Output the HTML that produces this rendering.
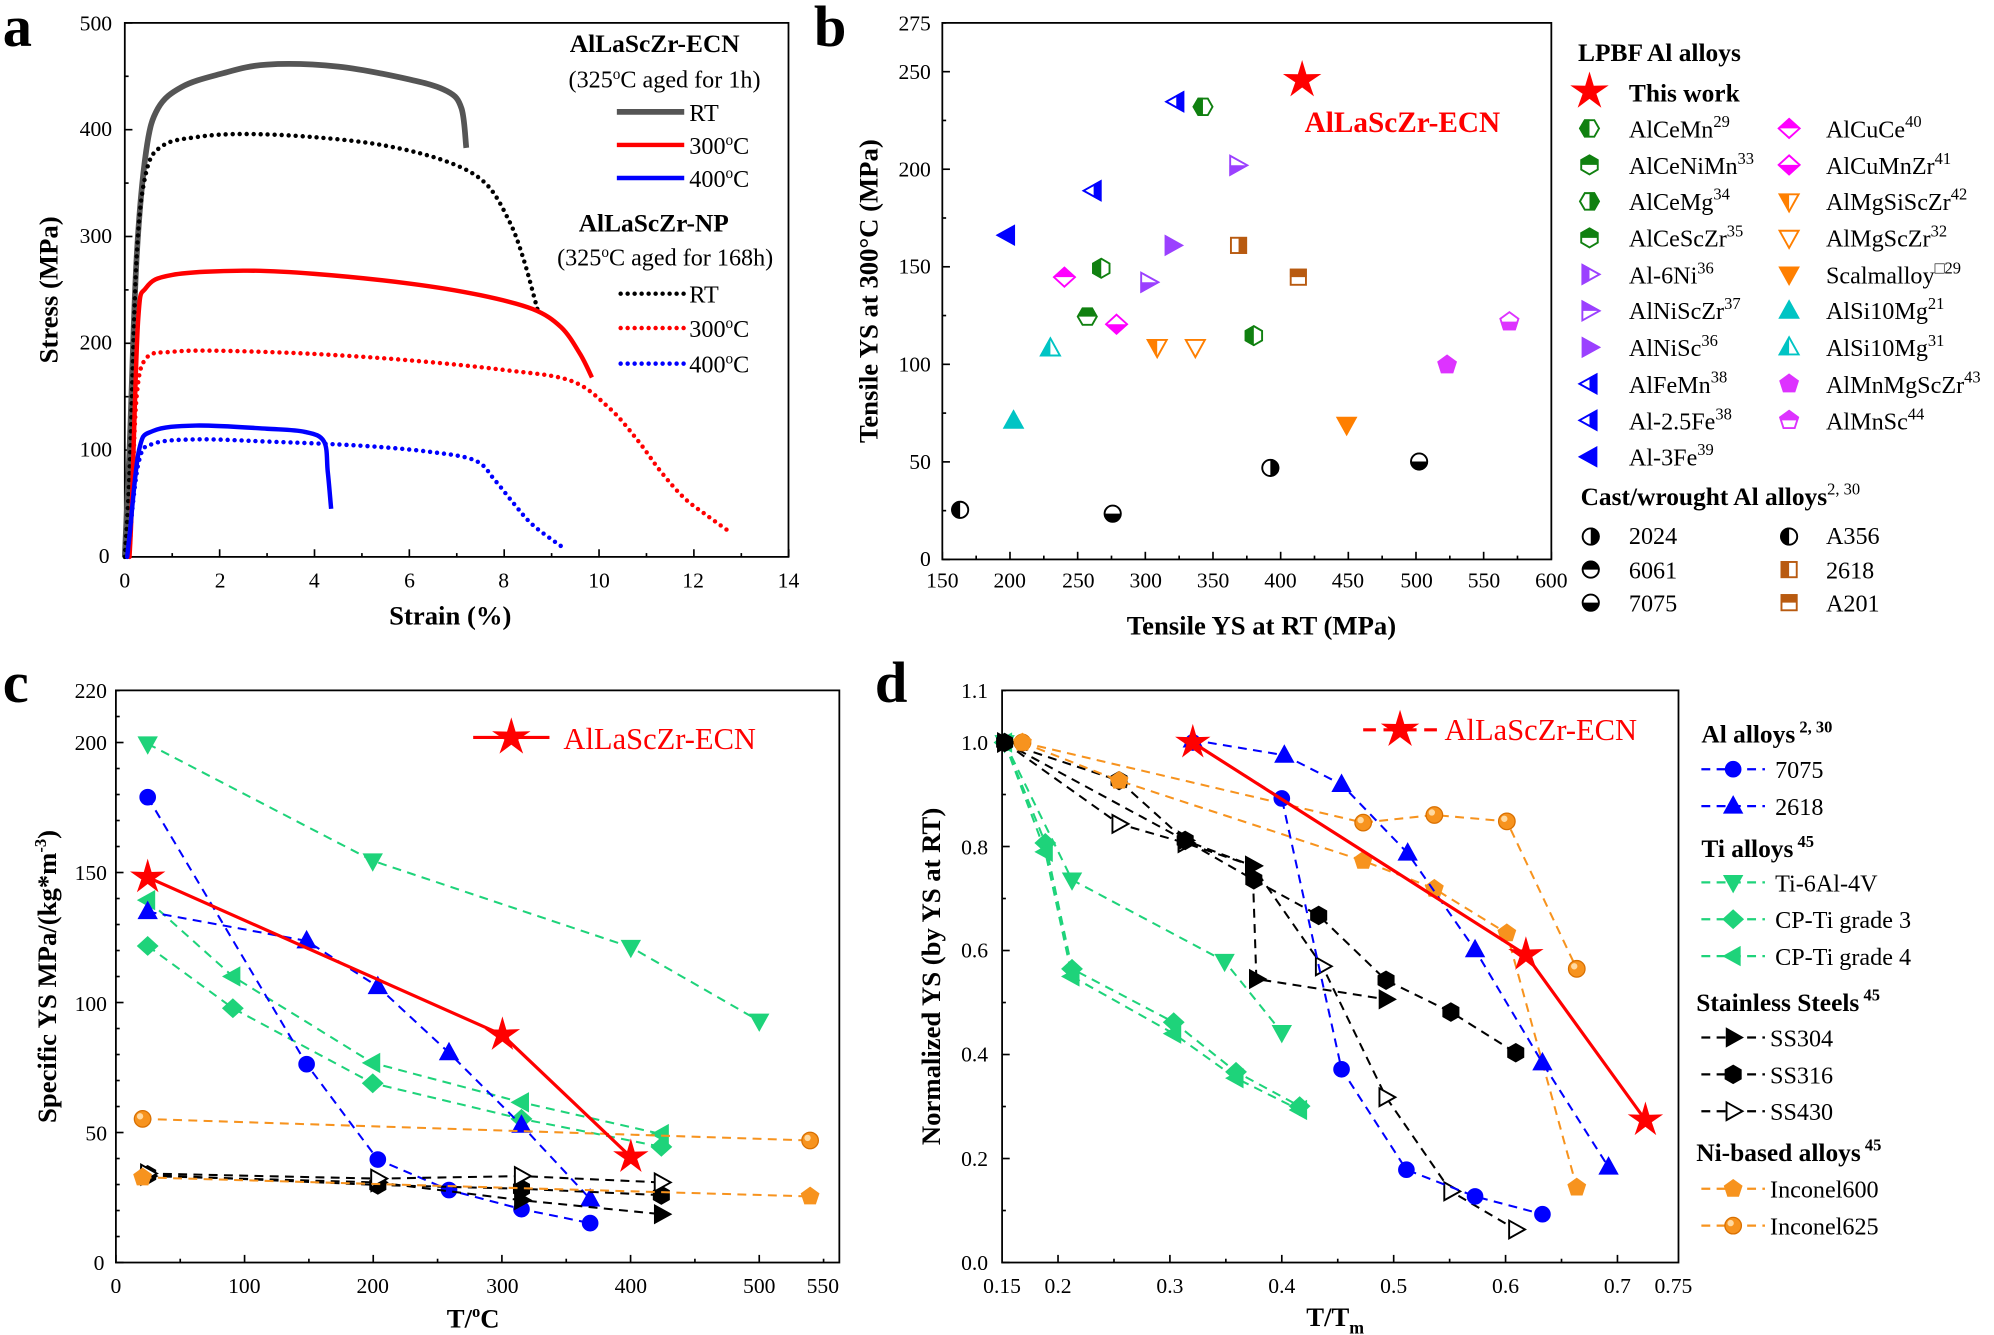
<!DOCTYPE html>
<html><head><meta charset="utf-8">
<style>
html,body{margin:0;padding:0;background:#fff;}
svg{display:block;}
text{font-family:"Liberation Serif",serif;fill:#000;}
.t{font-size:17px;}
.ax{font-size:21px;font-weight:bold;}
.pl{font-size:46px;font-weight:bold;}
.lg{font-size:19px;}
.lb{font-size:20px;font-weight:bold;}
</style></head><body>
<svg id="s" width="1994" height="1335" viewBox="0 0 1568 1050" xmlns="http://www.w3.org/2000/svg">
<defs id="defs"></defs>
<g id="g"></g>
<text x="2" y="36" class="pl">a</text>
<text x="640" y="36" class="pl">b</text>
<text x="2" y="552" class="pl">c</text>
<text x="688" y="552" class="pl">d</text>

<!-- Panel a texts -->
<text x="86" y="443" class="t" text-anchor="end">0</text>
<text x="88" y="359" class="t" text-anchor="end">100</text>
<text x="88" y="275" class="t" text-anchor="end">200</text>
<text x="88" y="191" class="t" text-anchor="end">300</text>
<text x="88" y="107" class="t" text-anchor="end">400</text>
<text x="88" y="24" class="t" text-anchor="end">500</text>
<text x="98" y="462" class="t" text-anchor="middle">0</text>
<text x="173" y="462" class="t" text-anchor="middle">2</text>
<text x="247" y="462" class="t" text-anchor="middle">4</text>
<text x="322" y="462" class="t" text-anchor="middle">6</text>
<text x="396" y="462" class="t" text-anchor="middle">8</text>
<text x="471" y="462" class="t" text-anchor="middle">10</text>
<text x="545" y="462" class="t" text-anchor="middle">12</text>
<text x="620" y="462" class="t" text-anchor="middle">14</text>
<text x="354" y="491" class="ax" text-anchor="middle">Strain (%)</text>
<text transform="translate(45,228) rotate(-90)" class="ax" text-anchor="middle">Stress (MPa)</text>
<text x="448" y="41" class="lb">AlLaScZr-ECN</text>
<text x="447" y="69" class="lg">(325<tspan dy="-7" font-size="12">o</tspan><tspan dy="7">C aged for 1h)</tspan></text>
<text x="542" y="95" class="lg">RT</text>
<text x="542" y="121" class="lg">300<tspan dy="-7" font-size="12">o</tspan><tspan dy="7">C</tspan></text>
<text x="542" y="147" class="lg">400<tspan dy="-7" font-size="12">o</tspan><tspan dy="7">C</tspan></text>
<text x="455" y="182" class="lb">AlLaScZr-NP</text>
<text x="438" y="209" class="lg">(325<tspan dy="-7" font-size="12">o</tspan><tspan dy="7">C aged for 168h)</tspan></text>
<text x="542" y="238" class="lg">RT</text>
<text x="542" y="265" class="lg">300<tspan dy="-7" font-size="12">o</tspan><tspan dy="7">C</tspan></text>
<text x="542" y="293" class="lg">400<tspan dy="-7" font-size="12">o</tspan><tspan dy="7">C</tspan></text>

<!-- Panel b texts -->
<text x="732" y="445" class="t" text-anchor="end">0</text>
<text x="732" y="369" class="t" text-anchor="end">50</text>
<text x="732" y="292" class="t" text-anchor="end">100</text>
<text x="732" y="215" class="t" text-anchor="end">150</text>
<text x="732" y="139" class="t" text-anchor="end">200</text>
<text x="732" y="62" class="t" text-anchor="end">250</text>
<text x="732" y="24" class="t" text-anchor="end">275</text>
<text x="741" y="462" class="t" text-anchor="middle">150</text>
<text x="794" y="462" class="t" text-anchor="middle">200</text>
<text x="848" y="462" class="t" text-anchor="middle">250</text>
<text x="901" y="462" class="t" text-anchor="middle">300</text>
<text x="954" y="462" class="t" text-anchor="middle">350</text>
<text x="1007" y="462" class="t" text-anchor="middle">400</text>
<text x="1060" y="462" class="t" text-anchor="middle">450</text>
<text x="1114" y="462" class="t" text-anchor="middle">500</text>
<text x="1167" y="462" class="t" text-anchor="middle">550</text>
<text x="1220" y="462" class="t" text-anchor="middle">600</text>
<text x="992" y="499" class="ax" text-anchor="middle">Tensile YS at RT (MPa)</text>
<text transform="translate(690,229) rotate(-90)" class="ax" text-anchor="middle">Tensile YS at 300°C (MPa)</text>
<text x="1026" y="104" font-size="23" font-weight="bold" style="fill:#f00">AlLaScZr-ECN</text>
<text x="1241" y="48" class="lb">LPBF Al alloys</text>
<text x="1281" y="80" class="lb">This work</text>
<g class="lg">
<text x="1281" y="108">AlCeMn<tspan dy="-8" font-size="13">29</tspan></text>
<text x="1281" y="137">AlCeNiMn<tspan dy="-8" font-size="13">33</tspan></text>
<text x="1281" y="165">AlCeMg<tspan dy="-8" font-size="13">34</tspan></text>
<text x="1281" y="194">AlCeScZr<tspan dy="-8" font-size="13">35</tspan></text>
<text x="1281" y="223">Al-6Ni<tspan dy="-8" font-size="13">36</tspan></text>
<text x="1281" y="251">AlNiScZr<tspan dy="-8" font-size="13">37</tspan></text>
<text x="1281" y="280">AlNiSc<tspan dy="-8" font-size="13">36</tspan></text>
<text x="1281" y="309">AlFeMn<tspan dy="-8" font-size="13">38</tspan></text>
<text x="1281" y="338">Al-2.5Fe<tspan dy="-8" font-size="13">38</tspan></text>
<text x="1281" y="366">Al-3Fe<tspan dy="-8" font-size="13">39</tspan></text>
<text x="1436" y="108">AlCuCe<tspan dy="-8" font-size="13">40</tspan></text>
<text x="1436" y="137">AlCuMnZr<tspan dy="-8" font-size="13">41</tspan></text>
<text x="1436" y="165">AlMgSiScZr<tspan dy="-8" font-size="13">42</tspan></text>
<text x="1436" y="194">AlMgScZr<tspan dy="-8" font-size="13">32</tspan></text>
<text x="1436" y="223">Scalmalloy<tspan dy="-8" font-size="13">□29</tspan></text>
<text x="1436" y="251">AlSi10Mg<tspan dy="-8" font-size="13">21</tspan></text>
<text x="1436" y="280">AlSi10Mg<tspan dy="-8" font-size="13">31</tspan></text>
<text x="1436" y="309">AlMnMgScZr<tspan dy="-8" font-size="13">43</tspan></text>
<text x="1436" y="338">AlMnSc<tspan dy="-8" font-size="13">44</tspan></text>
<text x="1281" y="428">2024</text>
<text x="1281" y="455">6061</text>
<text x="1281" y="481">7075</text>
<text x="1436" y="428">A356</text>
<text x="1436" y="455">2618</text>
<text x="1436" y="481">A201</text>
</g>
<text x="1243" y="397" class="lb">Cast/wrought Al alloys<tspan dy="-8" font-size="13" font-weight="normal">2, 30</tspan></text>

<!-- Panel c texts -->
<text x="82" y="999" class="t" text-anchor="end">0</text>
<text x="84" y="897" class="t" text-anchor="end">50</text>
<text x="84" y="795" class="t" text-anchor="end">100</text>
<text x="84" y="692" class="t" text-anchor="end">150</text>
<text x="84" y="590" class="t" text-anchor="end">200</text>
<text x="84" y="549" class="t" text-anchor="end">220</text>
<text x="91" y="1017" class="t" text-anchor="middle">0</text>
<text x="192" y="1017" class="t" text-anchor="middle">100</text>
<text x="293" y="1017" class="t" text-anchor="middle">200</text>
<text x="395" y="1017" class="t" text-anchor="middle">300</text>
<text x="496" y="1017" class="t" text-anchor="middle">400</text>
<text x="597" y="1017" class="t" text-anchor="middle">500</text>
<text x="647" y="1017" class="t" text-anchor="middle">550</text>
<text x="372" y="1044" class="ax" text-anchor="middle">T/<tspan dy="-8" font-size="13">o</tspan><tspan dy="8">C</tspan></text>
<text transform="translate(44,768) rotate(-90)" class="ax" text-anchor="middle">Specific YS  MPa/(kg*m<tspan dy="-8" font-size="13">-3</tspan><tspan dy="8">)</tspan></text>
<text x="443" y="589" font-size="24" style="fill:#f00">AlLaScZr-ECN</text>

<!-- Panel d texts -->
<text x="777" y="999" class="t" text-anchor="end">0.0</text>
<text x="777" y="917" class="t" text-anchor="end">0.2</text>
<text x="777" y="835" class="t" text-anchor="end">0.4</text>
<text x="777" y="753" class="t" text-anchor="end">0.6</text>
<text x="777" y="672" class="t" text-anchor="end">0.8</text>
<text x="777" y="590" class="t" text-anchor="end">1.0</text>
<text x="777" y="549" class="t" text-anchor="end">1.1</text>
<text x="788" y="1017" class="t" text-anchor="middle">0.15</text>
<text x="832" y="1017" class="t" text-anchor="middle">0.2</text>
<text x="920" y="1017" class="t" text-anchor="middle">0.3</text>
<text x="1008" y="1017" class="t" text-anchor="middle">0.4</text>
<text x="1096" y="1017" class="t" text-anchor="middle">0.5</text>
<text x="1184" y="1017" class="t" text-anchor="middle">0.6</text>
<text x="1272" y="1017" class="t" text-anchor="middle">0.7</text>
<text x="1316" y="1017" class="t" text-anchor="middle">0.75</text>
<text x="1050" y="1043" class="ax" text-anchor="middle">T/T<tspan dy="6" font-size="14">m</tspan></text>
<text transform="translate(739,768) rotate(-90)" class="ax" text-anchor="middle">Normalized YS (by YS at RT)</text>
<text x="1136" y="582" font-size="24" style="fill:#f00">AlLaScZr-ECN</text>
<text x="1338" y="584" class="lb">Al alloys<tspan dy="-8" font-size="13"> 2, 30</tspan></text>
<text x="1338" y="674" class="lb">Ti alloys<tspan dy="-8" font-size="13"> 45</tspan></text>
<text x="1334" y="795" class="lb">Stainless Steels<tspan dy="-8" font-size="13"> 45</tspan></text>
<text x="1334" y="913" class="lb">Ni-based alloys<tspan dy="-8" font-size="13"> 45</tspan></text>
<g class="lg">
<text x="1396" y="612">7075</text>
<text x="1396" y="641">2618</text>
<text x="1396" y="701">Ti-6Al-4V</text>
<text x="1396" y="730">CP-Ti grade 3</text>
<text x="1396" y="759">CP-Ti grade 4</text>
<text x="1392" y="823">SS304</text>
<text x="1392" y="852">SS316</text>
<text x="1392" y="881">SS430</text>
<text x="1392" y="942">Inconel600</text>
<text x="1392" y="971">Inconel625</text>
</g>
</svg>
<script>
const NS="http://www.w3.org/2000/svg";
const G=document.getElementById('g'),D=document.getElementById('defs');
let cid=0;
function el(n,a,p){const e=document.createElementNS(NS,n);for(const k in a)e.setAttribute(k,a[k]);(p||G).appendChild(e);return e;}
function line(pts,c,w,dash){el('polyline',{points:pts.map(p=>p.join(',')).join(' '),fill:'none',stroke:c,'stroke-width':w,'stroke-dasharray':dash||'none','stroke-linejoin':'round','stroke-linecap':dash&&dash.startsWith('0')?'round':'butt'});}
function smooth(pts,c,w,dash){
 let d='M'+pts[0][0]+','+pts[0][1];
 for(let i=0;i<pts.length-1;i++){
  const p0=pts[Math.max(0,i-1)],p1=pts[i],p2=pts[i+1],p3=pts[Math.min(pts.length-1,i+2)];
  const c1=[p1[0]+(p2[0]-p0[0])/6,p1[1]+(p2[1]-p0[1])/6],c2=[p2[0]-(p3[0]-p1[0])/6,p2[1]-(p3[1]-p1[1])/6];
  d+=' C'+c1.map(v=>v.toFixed(1)).join(',')+' '+c2.map(v=>v.toFixed(1)).join(',')+' '+p2[0].toFixed(1)+','+p2[1].toFixed(1);
 }
 el('path',{d:d,fill:'none',stroke:c,'stroke-width':w,'stroke-dasharray':dash||'none','stroke-linecap':dash?'round':'butt','stroke-linejoin':'round'});
}
function shape(t,x,y,s){
 const r=s;
 const poly=a=>a.map(p=>(x+p[0]*r).toFixed(1)+','+(y+p[1]*r).toFixed(1)).join(' ');
 switch(t){
 case 'c':return ['circle',{cx:x,cy:y,r:r*0.85}];
 case 'u':return ['polygon',{points:poly([[0,-1.05],[1,0.75],[-1,0.75]])}];
 case 'd':return ['polygon',{points:poly([[0,1.05],[1,-0.75],[-1,-0.75]])}];
 case 'l':return ['polygon',{points:poly([[-1.05,0],[0.75,-1],[0.75,1]])}];
 case 'r':return ['polygon',{points:poly([[1.05,0],[-0.75,-1],[-0.75,1]])}];
 case 'D':return ['polygon',{points:poly([[0,-1],[1.1,0],[0,1],[-1.1,0]])}];
 case 'h':return ['polygon',{points:poly([[0,-1],[0.87,-0.5],[0.87,0.5],[0,1],[-0.87,0.5],[-0.87,-0.5]])}];
 case 'H':return ['polygon',{points:poly([[-1,0],[-0.5,-0.87],[0.5,-0.87],[1,0],[0.5,0.87],[-0.5,0.87]])}];
 case 'p':{const a=[];for(let i=0;i<5;i++){const t2=-Math.PI/2+i*2*Math.PI/5;a.push([Math.cos(t2),Math.sin(t2)]);}return ['polygon',{points:poly(a)}];}
 case 's':return ['rect',{x:x-r*0.8,y:y-r*0.8,width:r*1.6,height:r*1.6}];
 case '*':{const a=[];for(let i=0;i<10;i++){const t2=-Math.PI/2+i*Math.PI/5,rr=i%2?0.45:1.25;a.push([rr*Math.cos(t2),rr*Math.sin(t2)]);}return ['polygon',{points:poly(a)}];}
 }
}
function mk(t,x,y,c,f,s){
 s=s||7.5;
 const [n,a]=shape(t,x,y,s);
 if(f==='f'){el(n,Object.assign({},a,{fill:c,stroke:c,'stroke-width':1.2}));return;}
 el(n,Object.assign({},a,{fill:'#fff',stroke:c,'stroke-width':1.5}));
 if(f==='o')return;
 const id='k'+(cid++);const cp=el('clipPath',{id:id},D);
 const R=s*1.5;
 let rc={L:[x-R,y-R,R,2*R],R:[x,y-R,R,2*R],T:[x-R,y-R,2*R,R],B:[x-R,y,2*R,R]}[f];
 el('rect',{x:rc[0],y:rc[1],width:rc[2],height:rc[3]},cp);
 el(n,Object.assign({},a,{fill:c,stroke:c,'stroke-width':1.2,'clip-path':'url(#'+id+')'}));
}
function sphere(x,y){el('circle',{cx:x,cy:y,r:6.5,fill:'#f7931e',stroke:'#d86f00','stroke-width':1});el('circle',{cx:x-2,cy:y-2,r:2.5,fill:'#ffd9a0'});}
function box(x0,y0,x1,y1){el('rect',{x:x0,y:y0,width:x1-x0,height:y1-y0,fill:'none',stroke:'#000','stroke-width':1.4});}
function tick(x,y,dx,dy){el('line',{x1:x,y1:y,x2:x+dx,y2:y+dy,stroke:'#000','stroke-width':1.3});}

// ---------- Panel a ----------
box(98,18,620,438);
for(let i=0;i<=14;i+=2){const x=98+i*37.3;tick(x,438,0,-6);}
for(let i=1;i<14;i+=2){tick(98+i*37.3,438,0,-3);}
for(let v=0;v<=500;v+=100){tick(98,438-v*0.84,6,0);} for(let v=50;v<500;v+=100)tick(98,438-v*0.84,3,0);
const A=p=>p.map(q=>[98+q[0]*37.3,438-q[1]*0.84]);
const dot='0 5.5';
smooth(A([[0,0],[0.1,100],[0.25,280],[0.45,380],[0.7,420],[1.2,440],[2,452],[3,461],[4.5,459],[6,447],[6.8,436],[7.1,420],[7.2,383]]),'#555',4.5);
smooth(A([[0,0],[0.1,80],[0.25,280],[0.45,360],[0.8,385],[1.5,393],[2.5,396],[4,393],[5.5,385],[6.8,370],[7.6,350],[8.1,315],[8.4,280],[8.7,232]]),'#000',3.5,dot);
smooth(A([[0.1,0],[0.15,50],[0.28,220],[0.45,252],[1,264],[2.5,268],[4,265],[6,256],[7.5,245],[8.6,232],[9.2,215],[9.6,190],[9.85,168]]),'#f00',3.5);
smooth(A([[0.1,0],[0.15,50],[0.25,150],[0.45,186],[1,192],[2,193],[4,190],[6,184],[8,175],[9.4,165],[10.2,140],[10.8,110],[11.3,80],[11.8,55],[12.3,38],[12.8,22]]),'#f00',3.5,dot);
smooth(A([[0.05,0],[0.1,20],[0.3,100],[0.6,118],[1.5,123],[3,120],[3.8,117],[4.2,108],[4.28,80],[4.35,45]]),'#00f',3.5);
smooth(A([[0.05,0],[0.1,20],[0.3,90],[0.6,106],[1.5,110],[3,108],[5,104],[6.5,98],[7.4,90],[7.8,72],[8.2,50],[8.6,30],[9.2,10]]),'#00f',3.5,dot);
line([[485,88],[538,88]],'#555',4.5);line([[485,114],[538,114]],'#f00',3.5);line([[485,140],[538,140]],'#00f',3.5);
line([[488,231],[538,231]],'#000',3.5,dot);line([[488,258],[538,258]],'#f00',3.5,dot);line([[488,286],[538,286]],'#00f',3.5,dot);

// ---------- Panel b ----------
box(741,18,1220,440);
for(let v=150;v<=600;v+=50)tick(741+(v-150)*1.0644,440,0,-6);
for(let v=175;v<600;v+=50)tick(741+(v-150)*1.0644,440,0,-3);
for(let v=0;v<=275;v+=25)tick(741,440-v*1.5345,v%50?3:6,0);
const GR='#108010',PK='#ff00ff',PU='#9b40ff',BL='#0000ff',OR='#ff7f00',CY='#00c4c4',MG='#dd33ff',BR='#b85a10';
mk('*',1024,63,'#f00','f',11);
mk('H',946,84,GR,'L');mk('h',866,211,GR,'L');mk('H',855,249,GR,'T');mk('h',986,264,GR,'L');
mk('D',837,218,PK,'T');mk('D',878,255,PK,'B');
mk('l',925,80,BL,'R');mk('l',860,150,BL,'R');mk('l',792,185,BL,'f');
mk('r',973,130,PU,'B');mk('r',903,222,PU,'B');mk('r',922,193,PU,'f');
mk('d',910,273,OR,'L');mk('d',940,273,OR,'o');mk('d',1059,334,OR,'f');
mk('u',826,274,CY,'L');mk('u',797,331,CY,'f');
mk('s',974,193,BR,'R');mk('s',1021,218,BR,'T');
mk('p',1138,287,MG,'f');mk('p',1187,253,MG,'B');
mk('c',755,401,'#000','L');mk('c',875,404,'#000','B');mk('c',999,368,'#000','R');mk('c',1116,363,'#000','B');
mk('*',1250,72,'#f00','f',11);
const lb=[['H',GR,'L'],['h',GR,'T'],['H',GR,'R'],['h',GR,'T'],['r',PU,'L'],['r',PU,'T'],['r',PU,'f'],['l',BL,'R'],['l',BL,'R'],['l',BL,'f']];
lb.forEach((m,i)=>mk(m[0],1250,101+i*28.7,m[1],m[2]));
const rb=[['D',PK,'T'],['D',PK,'B'],['d',OR,'L'],['d',OR,'o'],['d',OR,'f'],['u',CY,'f'],['u',CY,'L'],['p',MG,'f'],['p',MG,'T']];
rb.forEach((m,i)=>mk(m[0],1407,101+i*28.7,m[1],m[2]));
mk('c',1251,422,'#000','R');mk('c',1251,448,'#000','T');mk('c',1251,474,'#000','B');
mk('c',1407,422,'#000','L');mk('s',1407,448,BR,'L');mk('s',1407,474,BR,'T');

// ---------- Panel c ----------
box(91,543,660,993);
for(let v=0;v<=550;v+=50)tick(91+v*1.012,993,0,v%100?-3:-6);
for(let v=0;v<=220;v+=10)tick(91,993-v*2.045,v%50?3:6,0);
const TG='#1ed37a';
const ds='7 5';
function ser(pts,c,t,f,dash,w){line(pts,c,w||1.6,dash);pts.forEach(p=>t==='S'?sphere(p[0],p[1]):mk(t,p[0],p[1],c,f,t==='*'?10:7));}
ser([[116,585],[293,677],[496,745],[597,803]],TG,'d','f',ds);
ser([[116,744],[183,793],[293,852],[410,880],[520,902]],TG,'D','f',ds);
ser([[116,708],[183,768],[293,836],[410,867],[520,892]],TG,'l','f',ds);
ser([[116,627],[241,837],[297,912],[353,936],[410,951],[464,962]],BL,'c','f',ds);
ser([[116,717],[241,740],[297,776],[353,828],[410,885],[464,943]],BL,'u','f',ds);
ser([[116,925],[297,930],[410,944],[520,955]],'#000','r','f',ds);
ser([[116,924],[297,932],[410,935],[520,940]],'#000','h','f',ds);
ser([[116,923],[297,927],[410,925],[520,930]],'#000','r','o',ds);
ser([[112,880],[637,897]],'#f7931e','S','f',ds);
ser([[112,926],[637,941]],'#f7931e','p','f',ds);
ser([[116,690],[395,814],[496,910]],'#f00','*','f',null,2.5);
line([[372,580],[432,580]],'#f00',2.5);mk('*',402,580,'#f00','f',11);

// ---------- Panel d ----------
box(788,543,1320,993);
[0.2,0.3,0.4,0.5,0.6,0.7].forEach(v=>tick(788+(v-0.15)*880,993,0,-6));
[0.25,0.35,0.45,0.55,0.65].forEach(v=>tick(788+(v-0.15)*880,993,0,-3));
for(let v=0;v<=11;v++)tick(788,993-v*40.9,v%2?3:6,0);
ser([[790,584],[843,692],[963,756],[1008,812]],TG,'d','f',ds);
ser([[790,584],[822,663],[843,762],[923,804],[972,843],[1022,870]],TG,'D','f',ds);
ser([[790,584],[822,670],[843,768],[923,813],[972,848],[1022,873]],TG,'l','f',ds);
ser([[790,584],[880,648],[932,663],[985,681],[1040,760],[1090,863],[1141,937],[1192,967]],'#000','r','o',ds);
ser([[790,584],[880,614],[932,661],[986,692],[1037,720],[1090,771],[1141,796],[1192,828]],'#000','h','f',ds);
ser([[790,584],[932,661],[985,681],[988,770],[1090,786]],'#000','r','f',ds);
ser([[804,584],[1072,647],[1128,641],[1185,646],[1240,762]],'#f7931e','S','f',ds);
ser([[804,584],[880,614],[1072,677],[1128,699],[1185,734],[1240,934]],'#f7931e','p','f',ds);
ser([[938,584],[1008,628],[1055,841],[1106,920],[1160,941],[1213,955]],BL,'c','f',ds);
ser([[938,582],[1010,594],[1055,617],[1107,671],[1160,747],[1213,836],[1265,918]],BL,'u','f',ds);
ser([[938,584],[1200,751],[1294,881]],'#f00','*','f',null,2.5);
line([[1072,574],[1130,574]],'#f00',2.5,'10 6');mk('*',1101,574,'#f00','f',11);
function ld(y,c,t,f){line([[1338,y],[1388,y]],c,1.8,ds);t==='S'?sphere(1363,y):mk(t,1363,y,c,f,7);}
ld(605,BL,'c','f');ld(634,BL,'u','f');ld(694,TG,'d','f');ld(723,TG,'D','f');ld(752,TG,'l','f');
ld(816,'#000','r','f');ld(845,'#000','h','f');ld(874,'#000','r','o');ld(935,'#f7931e','p','f');ld(964,'#f7931e','S','f');
</script>
</body></html>
